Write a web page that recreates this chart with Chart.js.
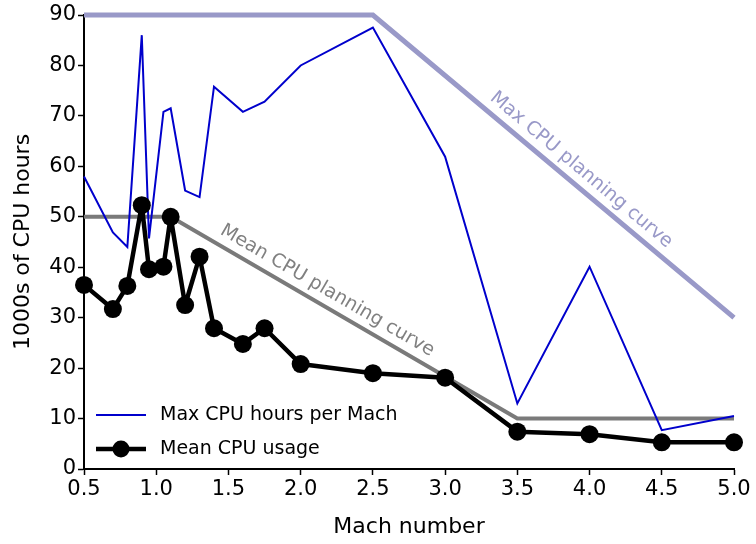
<!DOCTYPE html>
<html>
<head>
<meta charset="utf-8">
<script src="https://cdn.jsdelivr.net/npm/chart.js@4"></script>
<style>
  html, body { margin: 0; padding: 0; background: #fff; }
  #wrap { width: 756px; height: 544px; }
</style>
</head>
<body>
<div id="wrap"><canvas id="cpu-chart" width="756" height="544"></canvas></div>
<script>
// mach numbers and cpu usage (1000s of hours)
const mach = [0.5, 0.7, 0.8, 0.9, 0.95, 1.05, 1.1, 1.2, 1.3, 1.4, 1.6, 1.75, 2.0, 2.5, 3.0, 3.5, 4.0, 4.5, 5.0];
const maxCpu = [58, 46.9, 44.0, 86.0, 45.7, 70.8, 71.5, 55.2, 53.9, 75.8, 70.8, 72.8, 80.0, 87.5, 61.9, 13.0, 40.1, 7.7, 10.5];
const meanCpu = [36.5, 31.7, 36.3, 52.3, 39.6, 40.1, 50.0, 32.5, 42.1, 27.9, 24.8, 27.9, 20.8, 19.0, 18.1, 7.4, 6.9, 5.3, 5.3];

const maxPlanX = [0.5, 2.5, 5.0];
const maxPlanY = [90, 90, 30];
const meanPlanX = [0.5, 1.1, 3.5, 5.0];
const meanPlanY = [50, 50, 10, 10];

const xTicks = [0.5, 1.0, 1.5, 2.0, 2.5, 3.0, 3.5, 4.0, 4.5, 5.0];
const yTicks = [0, 10, 20, 30, 40, 50, 60, 70, 80, 90];

const FONT = "'DejaVu Sans', sans-serif";

function pts(xs, ys) {
    let out = [];
    for (let i = 0; i < xs.length; i++) out.push({x: xs[i], y: ys[i]});
    return out;
}

// rotated labels along the planning curves
const curveLabels = {
    id: 'curveLabels',
    afterDatasetsDraw(chart) {
        const ctx = chart.ctx;
        const xs = chart.scales.x, ys = chart.scales.y;
        function lab(text, x0, y0, x1, y1, t, off, color) {
            const ax = xs.getPixelForValue(x0), ay = ys.getPixelForValue(y0);
            const bx = xs.getPixelForValue(x1), by = ys.getPixelForValue(y1);
            const ang = Math.atan2(by - ay, bx - ax);
            const px = ax + (bx - ax) * t, py = ay + (by - ay) * t;
            ctx.save();
            ctx.translate(px, py);
            ctx.rotate(ang);
            ctx.fillStyle = color;
            ctx.font = '19px ' + FONT;
            ctx.textAlign = 'center';
            ctx.textBaseline = 'middle';
            ctx.fillText(text, 0, off);
            ctx.restore();
        }
        lab('Max CPU planning curve', 2.5, 90, 5.0, 30, 0.55, -15, '#9999c8');
        lab('Mean CPU planning curve', 1.1, 50, 3.5, 10, 0.43, -15, '#808080');
    }
};

// legend drawn inside the plot, lower left
const innerLegend = {
    id: 'innerLegend',
    afterDraw(chart) {
        const ctx = chart.ctx;
        const a = chart.chartArea;
        const x0 = a.left + 12, x1 = a.left + 62;
        const rows = [
            {y: a.bottom - 54, text: 'Max CPU hours per Mach', color: '#0000cc', w: 2, dot: false},
            {y: a.bottom - 20, text: 'Mean CPU usage', color: '#000000', w: 4.5, dot: true}
        ];
        ctx.save();
        ctx.font = '19px ' + FONT;
        ctx.textBaseline = 'middle';
        rows.forEach(r => {
            ctx.strokeStyle = r.color;
            ctx.lineWidth = r.w;
            ctx.beginPath();
            ctx.moveTo(x0, r.y);
            ctx.lineTo(x1, r.y);
            ctx.stroke();
            if (r.dot) {
                ctx.fillStyle = r.color;
                ctx.beginPath();
                ctx.arc((x0 + x1) / 2, r.y, 8.5, 0, Math.PI * 2);
                ctx.fill();
            }
            ctx.fillStyle = '#000';
            ctx.fillText(r.text, x1 + 14, r.y);
        });
        ctx.restore();
    }
};

const canvas = document.getElementById('cpu-chart').getContext('2d');
const main_chart = new Chart(canvas, {
    type: 'line',
    data: {
        datasets: [
            {
                label: 'Max CPU planning curve',
                data: pts(maxPlanX, maxPlanY),
                borderColor: '#9999c8',
                borderWidth: 5,
                pointRadius: 0,
                fill: false,
                order: 4
            },
            {
                label: 'Mean CPU planning curve',
                data: pts(meanPlanX, meanPlanY),
                borderColor: '#7a7a7a',
                borderWidth: 4,
                pointRadius: 0,
                fill: false,
                order: 3
            },
            {
                label: 'Max CPU hours per Mach',
                data: pts(mach, maxCpu),
                borderColor: '#0000cc',
                borderWidth: 2,
                pointRadius: 0,
                fill: false,
                order: 2
            },
            {
                label: 'Mean CPU usage',
                data: pts(mach, meanCpu),
                borderColor: '#000000',
                backgroundColor: '#000000',
                borderWidth: 4.5,
                borderJoinStyle: 'round',
                pointRadius: 9,
                pointBorderWidth: 0,
                fill: false,
                order: 1
            }
        ]
    },
    options: {
        responsive: false,
        animation: false,
        clip: false,
        layout: {padding: {left: 0, right: 22, top: 15, bottom: 0}},
        plugins: {
            legend: {display: false},
            tooltip: {enabled: false}
        },
        scales: {
            x: {
                type: 'linear',
                min: 0.5,
                max: 5.0,
                afterBuildTicks: (s) => { s.ticks = xTicks.map(v => ({value: v})); },
                afterFit: (s) => { s.height = 75; },
                ticks: {
                    color: '#000',
                    font: {family: FONT, size: 21},
                    padding: 2,
                    maxRotation: 0,
                    callback: (v) => Number(v).toFixed(1)
                },
                grid: {display: true, drawOnChartArea: false, drawTicks: true, tickLength: 6, color: '#000', tickWidth: 1.5},
                border: {display: true, color: '#000', width: 2},
                title: {display: true, text: 'Mach number', color: '#000', font: {family: FONT, size: 22}, padding: {top: 4, bottom: 4}}
            },
            y: {
                min: 0,
                max: 90,
                afterBuildTicks: (s) => { s.ticks = yTicks.map(v => ({value: v})); },
                afterFit: (s) => { s.width = 84; },
                ticks: {
                    color: '#000',
                    font: {family: FONT, size: 21},
                    padding: 2
                },
                grid: {display: true, drawOnChartArea: false, drawTicks: true, tickLength: 6, color: '#000', tickWidth: 1.5},
                border: {display: true, color: '#000', width: 2},
                title: {display: true, text: '1000s of CPU hours', color: '#000', font: {family: FONT, size: 22}, padding: {top: 10, bottom: 4}}
            }
        }
    },
    plugins: [curveLabels, innerLegend]
});
</script>
</body>
</html>
